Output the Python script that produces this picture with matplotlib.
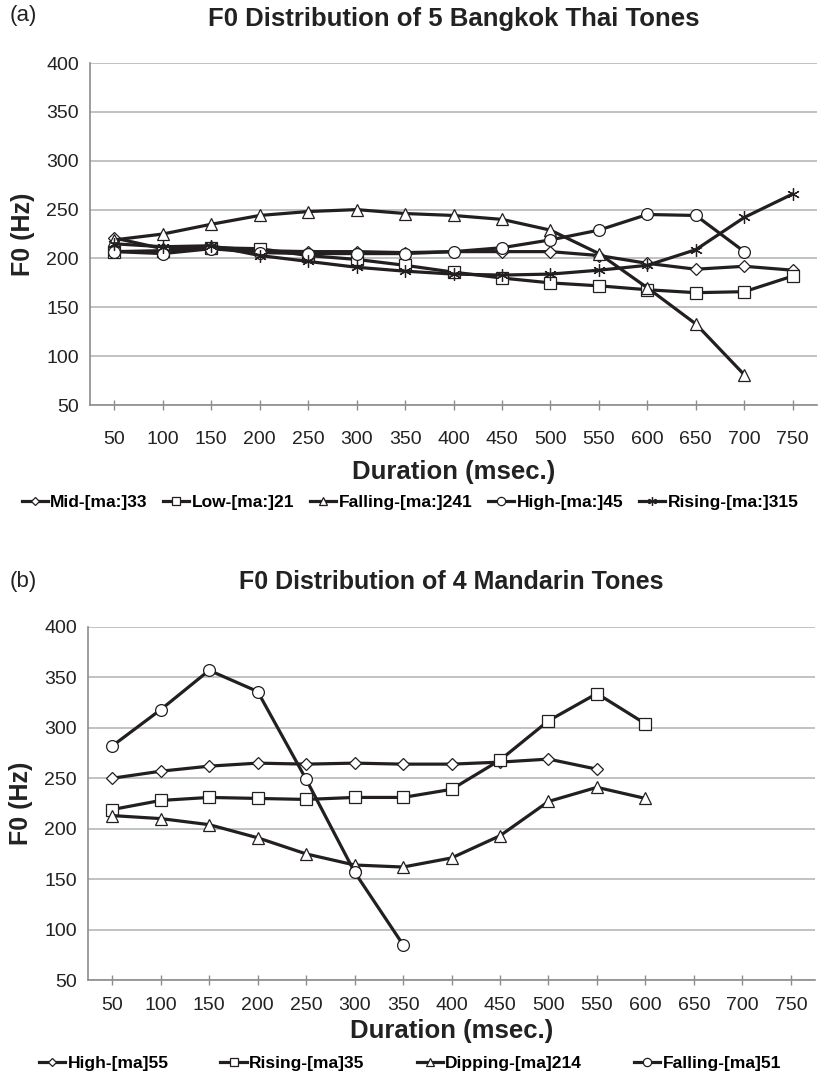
import numpy as np
import matplotlib
matplotlib.use("Agg")
import matplotlib.pyplot as plt

# ---- data ----
dur_thai = [50, 100, 150, 200, 250, 300, 350, 400, 450, 500, 550, 600, 650, 700, 750]
thai_mid = [221, 210, 212, 208, 207, 207, 206, 207, 207, 207, 203, 195, 189, 192, 188]
thai_low = [207, 208, 211, 210, 203, 199, 193, 186, 180, 175, 172, 168, 165, 166, 182]
thai_falling = [219, 225, 235, 244, 248, 250, 246, 244, 240, 229, 205, 170, 133, 81]
thai_high = [207, 205, 210, 206, 205, 205, 205, 207, 211, 219, 229, 245, 244, 207]
thai_rising = [215, 212, 213, 203, 197, 191, 187, 184, 183, 184, 188, 193, 209, 242, 266]

dur_man = [50, 100, 150, 200, 250, 300, 350, 400, 450, 500, 550, 600, 650, 700, 750]
man_high = [250, 257, 262, 265, 264, 265, 264, 264, 266, 269, 259]
man_rising = [219, 228, 231, 230, 229, 231, 231, 239, 268, 307, 334, 304]
man_dipping = [213, 210, 204, 191, 175, 164, 162, 171, 193, 227, 241, 230]
man_falling = [282, 318, 357, 336, 249, 157, 85]

thai_names = ['Mid-[ma:]33', 'Low-[ma:]21', 'Falling-[ma:]241', 'High-[ma:]45', 'Rising-[ma:]315']
man_names = ['High-[ma]55', 'Rising-[ma]35', 'Dipping-[ma]214', 'Falling-[ma]51']

plt.rcParams['font.family'] = ['Liberation Sans', 'DejaVu Sans']

INK = '#231f20'
GRID = '#bdbdbd'
AXIS = '#8c8c8c'
STAR = (6, 2, 0)
markers_thai = ['D', 's', '^', 'o', STAR]
markers_man = ['D', 's', '^', 'o']
msize = {'D': 6, 's': 8, '^': 8, 'o': 8.5, STAR: 9}


def draw_panel(ax, durations, series, names, markers, title, tsize, tickpad, xlpad):
    pos = np.arange(len(durations))
    handles = []
    for vals, name, mk in zip(series, names, markers):
        h, = ax.plot(pos[:len(vals)], vals, color=INK, lw=2.3, marker=mk,
                     ms=msize[mk], mfc='white', mec=INK, mew=0.9, label=name)
        handles.append(h)
    ax.set_xlim(-0.5, len(durations) - 0.5)
    ax.set_ylim(50, 400)
    ax.set_yticks(range(50, 401, 50))
    ax.set_xticks(pos)
    ax.set_xticklabels([str(d) for d in durations])
    ax.grid(axis='y', color=GRID, lw=1.3)
    ax.set_axisbelow(True)
    for s in ['top', 'right']:
        ax.spines[s].set_visible(False)
    for s in ['left', 'bottom']:
        ax.spines[s].set_color(AXIS)
        ax.spines[s].set_linewidth(1.2)
    ax.tick_params(axis='y', length=0, pad=8, labelsize=14, labelcolor='#222222')
    ax.tick_params(axis='x', direction='inout', length=7, width=1.0, color=AXIS,
                   pad=tickpad, labelsize=14, labelcolor='#222222')
    ax.set_xlabel('Duration (msec.)', fontsize=18.5, fontweight='bold', color='#222222', labelpad=xlpad)
    ax.set_ylabel('F0 (Hz)', fontsize=18, fontweight='bold', color='#222222', labelpad=8)
    ax.set_title(title, fontsize=tsize, fontweight='bold', color='#222222', pad=27)
    return handles


fig = plt.figure(figsize=(8.2, 10.83), dpi=100)

ax1 = fig.add_axes([0.1098, 0.626, 0.8865, 0.3158])
h1 = draw_panel(ax1, dur_thai, [thai_mid, thai_low, thai_falling, thai_high, thai_rising],
                thai_names, markers_thai, 'F0 Distribution of 5 Bangkok Thai Tones', 18.5, 15, 8.5)

ax2 = fig.add_axes([0.1073, 0.0951, 0.8867, 0.3260])
h2 = draw_panel(ax2, dur_man, [man_high, man_rising, man_dipping, man_falling],
                man_names, markers_man, 'F0 Distribution of 4 Mandarin Tones', 18, 8.5, 4)

leg_font = {'weight': 'bold', 'size': 12.5}
fig.legend(handles=h1, loc='center', bbox_to_anchor=(0.5, 1 - 502 / 1083), ncol=5,
           frameon=False, prop=leg_font, handlelength=1.5, handletextpad=0.15,
           columnspacing=0.9, markerscale=0.7)
fig.legend(handles=h2, loc='center', bbox_to_anchor=(0.5, 1 - 1063 / 1083), ncol=4,
           frameon=False, prop=leg_font, handlelength=1.5, handletextpad=0.15,
           columnspacing=3.0, markerscale=0.7)

fig.text(0.012, 1 - 15 / 1083, '(a)', fontsize=16, va='center', ha='left', color='#222222')
fig.text(0.012, 1 - 582 / 1083, '(b)', fontsize=16, va='center', ha='left', color='#222222')

fig.savefig('out.png', dpi=100)
